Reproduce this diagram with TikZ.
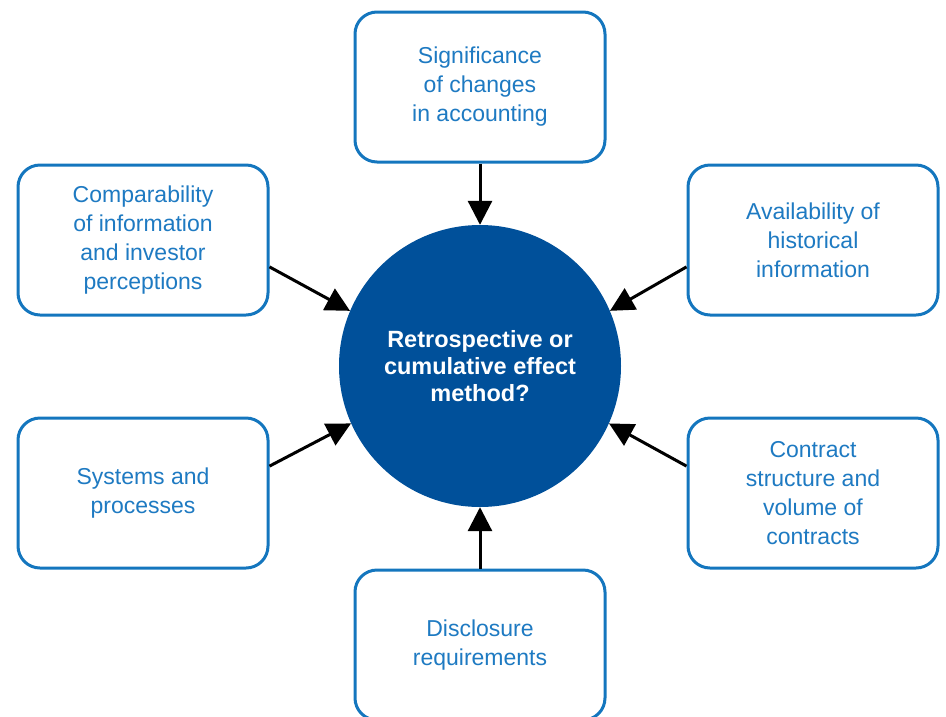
\documentclass[tikz,border=0pt]{standalone}
\usepackage{fontspec}
\setmainfont{Liberation Sans}
\usepackage{xcolor}
\usetikzlibrary{arrows.meta}
\definecolor{boxblue}{RGB}{20,118,190}
\definecolor{txtblue}{RGB}{30,122,194}
\definecolor{hubblue}{RGB}{0,80,154}

\begin{document}
\begin{tikzpicture}[x=1pt,y=-1pt,
    factor/.style={draw=boxblue, line width=3pt, rounded corners=22pt, fill=white,
        minimum width=250pt, minimum height=150pt, align=center, text=txtblue,
        font=\fontsize{23}{29}\selectfont},
    hub/.style={circle, fill=hubblue, minimum size=282pt, inner sep=0pt, align=center,
        text=white, font=\fontsize{23.5}{27}\selectfont\bfseries},
    arr/.style={-{Triangle[length=24pt,width=24pt]}, line width=3pt, black}]
        \useasboundingbox (0,0) rectangle (946,716);
        % centre
        \node[hub] (hub) at (480,366) {Retrospective or\\cumulative effect\\method?};
        % factors round it
        \node[factor] (top) at (480,87) {Significance\\of changes\\in accounting};
        \node[factor] (tl) at (143,240) {Comparability\\of information\\and investor\\perceptions};
        \node[factor] (tr) at (813,240) {Availability of\\historical\\information};
        \node[factor] (bl) at (143,493) {Systems and\\processes};
        \node[factor] (br) at (813,493) {Contract\\structure and\\volume of\\contracts};
        \node[factor] (bot) at (480,645) {Disclosure\\requirements};
        % arrows into the centre
        \draw[arr] (top) -- (hub);
        \draw[arr] (bot) -- (hub);
        \draw[arr] (tl.-12) -- (hub.157);
        \draw[arr] (tr.192) -- (hub.23);
        \draw[arr] (bl.12) -- (hub.204);
        \draw[arr] (br.168) -- (hub.-24);
    \end{tikzpicture}
\end{document}
